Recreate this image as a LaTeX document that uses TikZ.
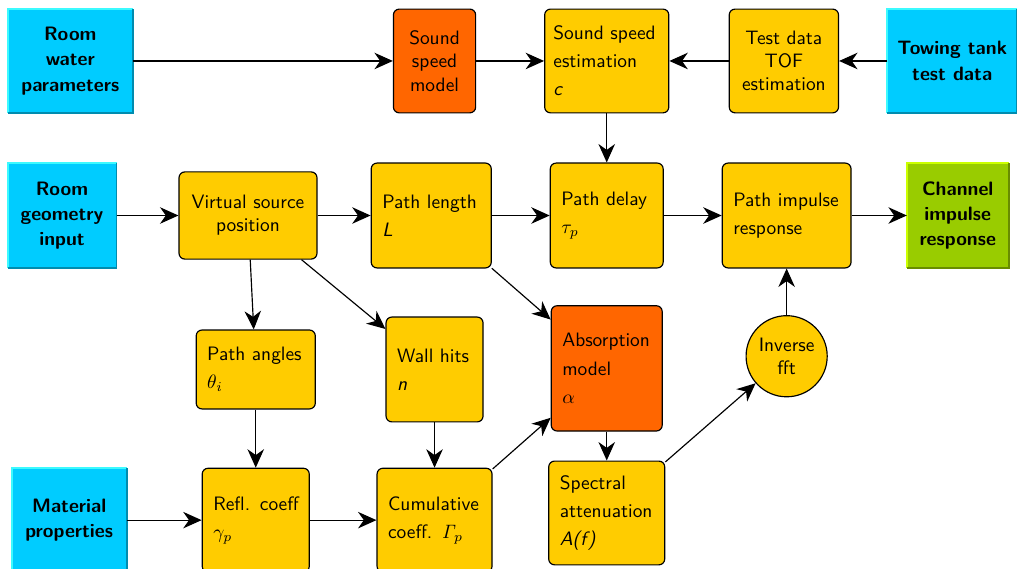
\documentclass[tikz,border=0pt]{standalone}
\usepackage{xcolor}
\usepackage{tikz}
\usetikzlibrary{arrows.meta, positioning, shapes.geometric}
\definecolor{skyfill}{RGB}{0,204,255}
\definecolor{skylight}{RGB}{60,250,255}
\definecolor{skydark}{RGB}{0,140,175}
\definecolor{limefill}{RGB}{153,204,0}
\definecolor{limelight}{RGB}{204,255,0}
\definecolor{limedark}{RGB}{105,140,0}
\definecolor{procfill}{RGB}{255,204,0}
\definecolor{modelfill}{RGB}{255,102,0}

\begin{document}
\begin{tikzpicture}[
  node distance=2.8cm, on grid,
  every node/.style={font=\sffamily},
  io/.style={fill=skyfill, minimum height=1.88cm, align=center, inner sep=0pt,
             font=\sffamily\bfseries\fontsize{10}{13}\selectfont},
  proc/.style={draw, semithick, rounded corners=3pt, fill=procfill, minimum height=1.9cm,
               align=left, inner xsep=5.7pt, font=\sffamily\fontsize{10}{14.5}\selectfont},
  procc/.style={draw, semithick, rounded corners=3pt, fill=procfill, minimum height=1.88cm,
                align=center},
  model/.style={proc, fill=modelfill},
  arr/.style={-{Stealth[length=9.5pt, width=8.5pt, inset=3pt]}, semithick}
]
  \useasboundingbox (-4.494,-6.405) rectangle (13.934,3.905);

  % middle row
  \node[procc, minimum width=2.5cm, minimum height=1.58cm] (vsp) {Virtual source\\position};
  \node[proc, text width=50.5pt, right=3.32cm of vsp] (plen) {Path length\\\textit{L}};
  \node[proc, text width=46.8pt, right=3.18cm of plen] (pdelay) {Path delay\\$\tau_p$};
  \node[proc, text width=55pt, right=3.26cm of pdelay] (pir) {Path impulse\\response};
  \node[io, fill=limefill, minimum width=1.83cm, right=3.1cm of pir] (cir) {Channel\\impulse\\response};
  \node[io, minimum width=1.96cm, left=3.37cm of vsp] (rgi) {Room\\geometry\\input};

  % top row
  \node[proc, text width=55pt, inner xsep=4.5pt, minimum height=1.88cm, above=2.8cm of pdelay] (sse) {Sound speed\\estimation\\\textit{c}};
  \node[procc, fill=modelfill, minimum width=1.49cm, left=3.12cm of sse] (ssm) {Sound\\speed\\model};
  \node[io, minimum width=2.25cm, left=6.6cm of ssm] (rwp) {Room\\water\\parameters};
  \node[procc, minimum width=1.98cm, right=3.21cm of sse] (tof) {Test data\\TOF\\estimation};
  \node[io, minimum width=2.34cm, right=3.05cm of tof] (towing) {Towing tank\\test data};

  % third row
  \node[proc, text width=50pt, minimum height=1.43cm, below=2.79cm of vsp, xshift=0.14cm] (pangles) {Path angles\\$\theta_i$};
  \node[proc, text width=38.6pt, below=2.79cm of plen, xshift=0.06cm] (walls) {Wall hits\\\textit{n}};
  \node[model, text width=45.8pt, minimum height=2.27cm, below=2.77cm of pdelay] (absm) {Absorption\\model\\$\alpha$};
  \node[circle, draw, semithick, fill=procfill, minimum size=1.47cm, inner sep=0pt, align=center,
        below=2.55cm of pir] (ifft) {Inverse\\fft};

  % bottom row
  \node[proc, text width=43.8pt, minimum height=1.88cm, below=2.73cm of pangles] (refl) {Refl. coeff\\$\gamma_p$};
  \node[proc, text width=47.9pt, minimum height=1.88cm, below=2.73cm of walls] (cumul) {Cumulative\\coeff. $\mathit{\Gamma}_p$};
  \node[io, minimum width=2.07cm, left=3.38cm of refl] (matprop) {Material\\properties};
  \node[proc, text width=48.4pt, minimum height=1.88cm, below=2.62cm of absm] (spec) {Spectral\\attenuation\\\textit{A(f)}};

  % bevelled edges of the input/output boxes
  \foreach \n in {rwp, rgi, matprop, towing} {
    \draw[skylight, line width=1pt] (\n.south west) |- (\n.north east);
    \draw[skydark, line width=1pt] (\n.south west) -| (\n.north east);
  }
  \draw[limelight, line width=1pt] (cir.south west) |- (cir.north east);
  \draw[limedark, line width=1pt] (cir.south west) -| (cir.north east);

  \draw[arr] (rwp) -- (ssm);
  \draw[arr] (ssm) -- (sse);
  \draw[arr] (tof) -- (sse);
  \draw[arr] (towing) -- (tof);
  \draw[arr] (sse) -- (pdelay);

  \draw[arr] (rgi) -- (vsp);
  \draw[arr] (vsp) -- (plen);
  \draw[arr] (plen) -- (pdelay);
  \draw[arr] (pdelay) -- (pir);
  \draw[arr] (pir) -- (cir);

  \draw[arr] (vsp) -- (pangles);
  \draw[arr] (vsp) -- (walls);
  \draw[arr] (plen) -- (absm);
  \draw[arr] (pangles) -- (refl);
  \draw[arr] (walls) -- (cumul);

  \draw[arr] (matprop) -- (refl);
  \draw[arr] (refl) -- (cumul);
  \draw[arr] (cumul) -- (absm);
  \draw[arr] (absm) -- (spec);
  \draw[arr] (spec) -- (ifft);
  \draw[arr] (ifft) -- (pir);
\end{tikzpicture}
\end{document}
